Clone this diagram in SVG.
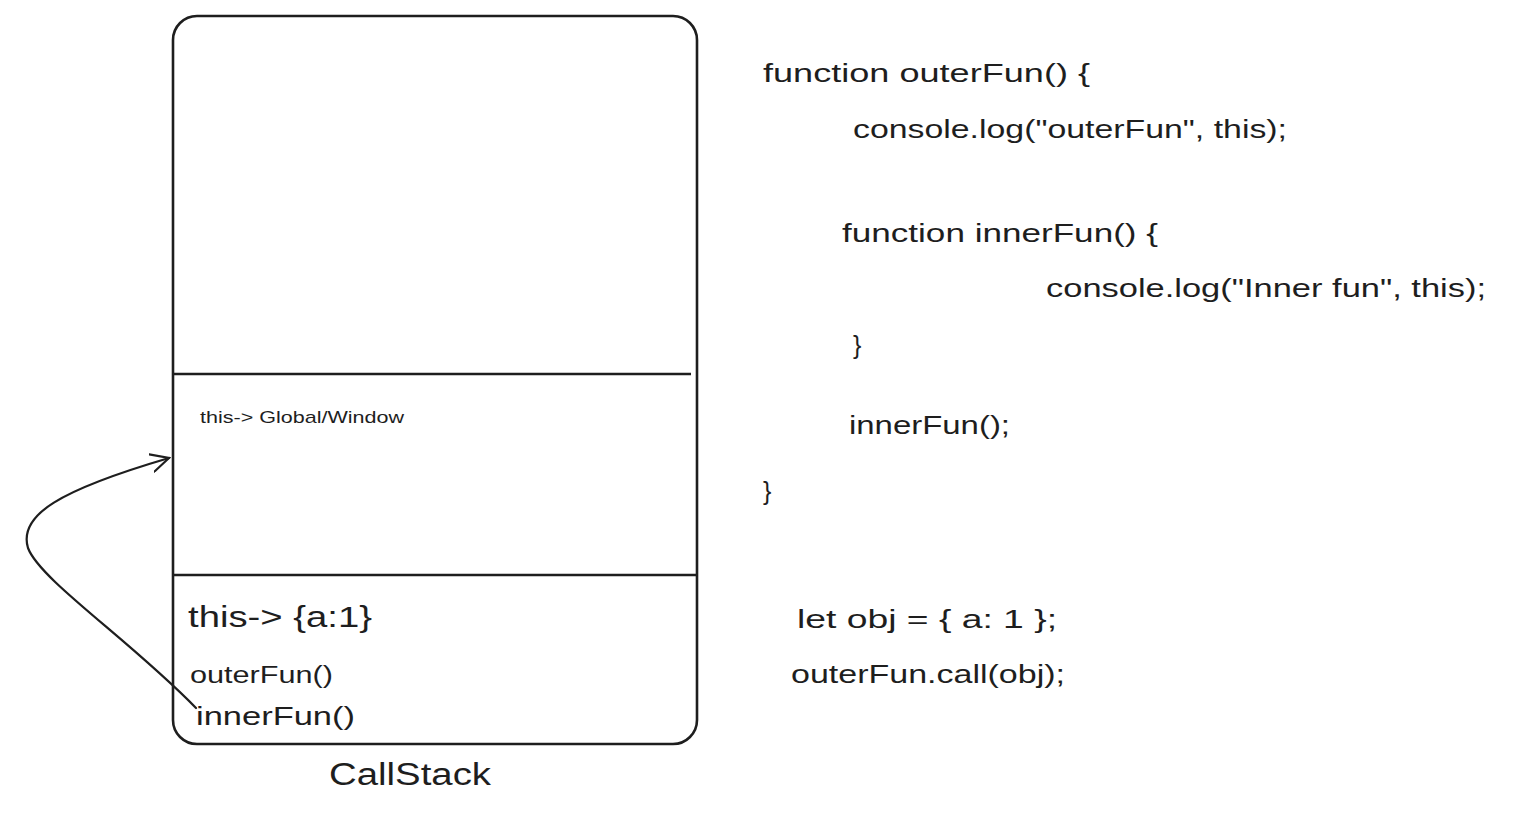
<svg xmlns="http://www.w3.org/2000/svg" width="1522" height="814" viewBox="0 0 1522 814">
<style>
.frame{fill:none;stroke:#1e1e1e;stroke-width:2.6}
.t{font-family:"Liberation Sans","Open Sans",sans-serif;fill:#1e1e1e}
.code{font-size:25px}
.conn{fill:none;stroke:#1e1e1e;stroke-width:2.2;stroke-linecap:round;stroke-linejoin:round}
</style>
<defs>
<marker id="arrow" viewBox="0 0 20 20" refX="18" refY="10" markerWidth="20" markerHeight="20" markerUnits="userSpaceOnUse" orient="auto">
<path d="M0 1 L18 10 L0 19" fill="none" stroke="#1e1e1e" stroke-width="2.2" stroke-linecap="round"/>
</marker>
</defs>
<rect width="1522" height="814" fill="#ffffff"/>
<g id="callstack">
<rect class="frame" x="173" y="16" width="524" height="728" rx="24"/>
<line class="frame" x1="173" y1="374" x2="691" y2="374"/>
<line class="frame" x1="173" y1="575" x2="697" y2="575"/>
<text class="t" x="200" y="423" font-size="17" textLength="204" lengthAdjust="spacingAndGlyphs">this-&gt; Global/Window</text>
<text class="t" x="188" y="627" font-size="29" textLength="184" lengthAdjust="spacingAndGlyphs">this-&gt; {a:1}</text>
<text class="t" x="190" y="683" font-size="23" textLength="143" lengthAdjust="spacingAndGlyphs">outerFun()</text>
<text class="t" x="196" y="725" font-size="26" textLength="159" lengthAdjust="spacingAndGlyphs">innerFun()</text>
<text class="t" x="329" y="785" font-size="31" textLength="162" lengthAdjust="spacingAndGlyphs">CallStack</text>
</g>
<g id="code">
<text class="t code" x="763" y="82" textLength="327" lengthAdjust="spacingAndGlyphs">function outerFun() {</text>
<text class="t code" x="853" y="138" textLength="434" lengthAdjust="spacingAndGlyphs">console.log("outerFun", this);</text>
<text class="t code" x="842" y="242" textLength="316" lengthAdjust="spacingAndGlyphs">function innerFun() {</text>
<text class="t code" x="1046" y="297" textLength="440" lengthAdjust="spacingAndGlyphs">console.log("Inner fun", this);</text>
<text class="t code" x="853" y="354" font-size="29">}</text>
<text class="t code" x="849" y="434" textLength="161" lengthAdjust="spacingAndGlyphs">innerFun();</text>
<text class="t code" x="763" y="500" font-size="29">}</text>
<text class="t code" x="797" y="628" textLength="260" lengthAdjust="spacingAndGlyphs">let obj = { a: 1 };</text>
<text class="t code" x="791" y="683" textLength="274" lengthAdjust="spacingAndGlyphs">outerFun.call(obj);</text>
</g>
<g id="connectors">
<path class="conn" d="M196 708 C130 640 40 580 28 548 C18 515 60 490 169 458" marker-end="url(#arrow)"/>
</g>
</svg>
